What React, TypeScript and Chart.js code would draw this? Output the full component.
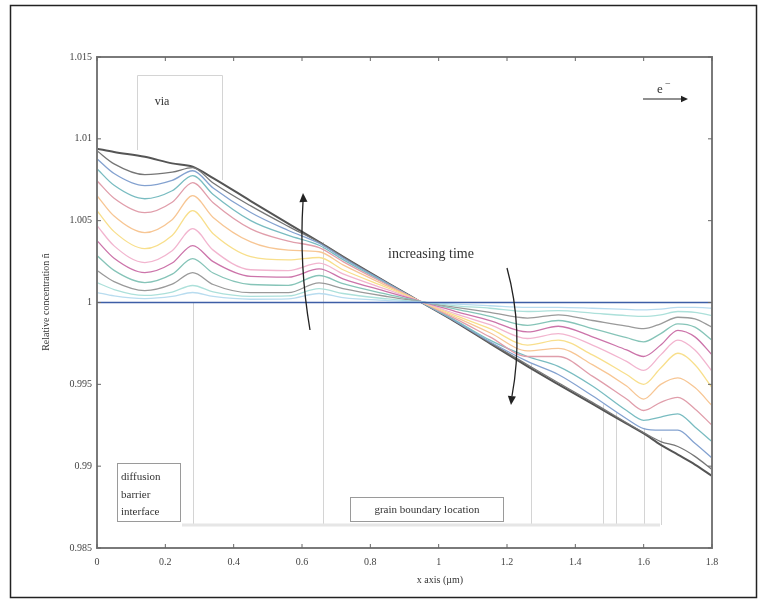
import React, { useEffect, useRef } from "react";
import { Chart, registerables } from "chart.js";

Chart.register(...registerables);

// x positions along the line (µm)
const xPositions = [0, 0.05, 0.14, 0.22, 0.28, 0.34, 0.45, 0.56, 0.65, 0.72, 0.85, 0.95, 1.05, 1.15, 1.26, 1.35, 1.45, 1.55, 1.6, 1.65, 1.7, 1.75, 1.8];

// deviations of relative concentration from 1, in units of 1e-3
const initialX = [0, 1.8];
const initialDev = [0, 0];
const profile1 = [0.61, 0.40, 0.24, 0.37, 0.61, 0.37, 0.20, 0.22, 0.55, 0.30, 0.12, 0.02, -0.10, -0.20, -0.30, -0.30, -0.35, -0.42, -0.45, -0.40, -0.30, -0.30, -0.35];
const profile2 = [1.22, 0.79, 0.43, 0.64, 1.04, 0.65, 0.38, 0.40, 0.85, 0.55, 0.22, 0.03, -0.20, -0.35, -0.55, -0.50, -0.65, -0.80, -0.85, -0.75, -0.55, -0.60, -0.80];
const profile3 = [1.95, 1.28, 0.73, 1.12, 1.83, 1.10, 0.60, 0.60, 1.20, 0.85, 0.36, 0.04, -0.30, -0.60, -0.95, -0.75, -1.10, -1.45, -1.60, -1.30, -0.90, -1.00, -1.50];
const profile4 = [2.87, 1.96, 1.22, 1.73, 2.68, 1.80, 1.10, 1.05, 1.65, 1.15, 0.50, 0.05, -0.40, -0.85, -1.40, -1.10, -1.60, -2.15, -2.40, -1.90, -1.30, -1.50, -2.30];
const profile5 = [3.78, 2.71, 1.83, 2.41, 3.48, 2.50, 1.60, 1.55, 2.05, 1.45, 0.65, 0.05, -0.55, -1.10, -1.80, -1.45, -2.10, -2.90, -3.30, -2.60, -1.70, -2.10, -3.20];
const profile6 = [4.70, 3.46, 2.44, 3.16, 4.51, 3.20, 2.00, 1.95, 2.40, 1.75, 0.78, 0.05, -0.70, -1.35, -2.20, -1.90, -2.60, -3.60, -4.15, -3.20, -2.30, -2.90, -4.20];
const profile7 = [5.61, 4.33, 3.29, 4.10, 5.61, 4.20, 2.80, 2.60, 2.75, 2.00, 0.90, 0.04, -0.80, -1.60, -2.60, -2.30, -3.20, -4.40, -5.00, -4.00, -3.10, -3.80, -5.20];
const profile8 = [6.53, 5.28, 4.27, 5.06, 6.53, 5.20, 3.70, 3.20, 3.10, 2.30, 1.00, 0.03, -0.90, -1.85, -2.95, -2.80, -3.80, -5.10, -5.90, -5.00, -4.60, -5.20, -6.30];
const profile9 = [7.44, 6.37, 5.49, 6.13, 7.32, 6.10, 4.50, 3.75, 3.35, 2.50, 1.08, 0.02, -1.00, -2.10, -3.30, -3.30, -4.50, -5.90, -6.60, -6.10, -5.80, -6.50, -7.50];
const profile10 = [8.17, 7.16, 6.34, 6.83, 7.75, 6.60, 5.00, 4.10, 3.50, 2.62, 1.13, 0.01, -1.10, -2.30, -3.30, -3.90, -5.10, -6.60, -7.20, -7.00, -6.80, -7.60, -8.50];
const profile11 = [8.78, 7.88, 7.14, 7.46, 8.05, 7.00, 5.50, 4.40, 3.62, 2.72, 1.17, 0.00, -1.15, -2.40, -3.60, -4.40, -5.70, -7.10, -7.70, -7.80, -7.80, -8.60, -9.50];
const profile12 = [9.27, 8.47, 7.81, 7.96, 8.24, 7.30, 5.90, 4.65, 3.68, 2.78, 1.19, 0.00, -1.18, -2.45, -3.80, -4.90, -6.10, -7.35, -7.95, -8.50, -8.80, -9.40, -10.20];
const finalProfile = [9.40, 9.20, 8.90, 8.50, 8.30, 7.60, 6.20, 4.82, 3.70, 2.80, 1.20, 0.00, -1.20, -2.50, -3.90, -5.00, -6.20, -7.40, -8.00, -8.70, -9.30, -9.90, -10.60];
const devUnit = 0.001;

const intermediateProfiles = [profile1, profile2, profile3, profile4, profile5, profile6, profile7, profile8, profile9, profile10, profile11, profile12];
const profileColors = ["#b8dcef", "#ace0da", "#9a9a9a", "#86c4b8", "#cc74aa", "#f2b5cf", "#f8df8c", "#f7c694", "#e09eab", "#79bcc1", "#84a2d0", "#767676"];

const xTicks = [0, 0.2, 0.4, 0.6, 0.8, 1, 1.2, 1.4, 1.6, 1.8];
const xTickLabels = ["0", "0.2", "0.4", "0.6", "0.8", "1", "1.2", "1.4", "1.6", "1.8"];
const yTicks = [0.985, 0.99, 0.995, 1, 1.005, 1.01, 1.015];
const yTickLabels = ["0.985", "0.99", "0.995", "1", "1.005", "1.01", "1.015"];

const grainBoundaries = [0.28, 0.66, 1.27, 1.48, 1.52, 1.6, 1.65];
const viaEdges = [0.117, 0.366];

const SERIF = "'Liberation Serif', 'DejaVu Serif', serif";

function arrowHead(ctx: CanvasRenderingContext2D, x: number, y: number, ang: number, size: number) {
  ctx.save();
  ctx.translate(x, y);
  ctx.rotate(ang);
  ctx.beginPath();
  ctx.moveTo(0, 0);
  ctx.lineTo(-size, -size * 0.45);
  ctx.lineTo(-size, size * 0.45);
  ctx.closePath();
  ctx.fill();
  ctx.restore();
}

const decorPlugin = {
  id: "decor",
  beforeDraw(chart: any) {
    const ctx = chart.ctx as CanvasRenderingContext2D;
    ctx.save();
    ctx.fillStyle = "#ffffff";
    ctx.fillRect(0, 0, chart.width, chart.height);
    ctx.strokeStyle = "#222";
    ctx.lineWidth = 1.5;
    ctx.strokeRect(10.5, 5.5, 746, 592);
    ctx.restore();
  },
  beforeDatasetsDraw(chart: any) {
    const ctx = chart.ctx as CanvasRenderingContext2D;
    const xs = chart.scales.x;
    const ys = chart.scales.y;
    ctx.save();
    ctx.strokeStyle = "#d4d4d4";
    ctx.lineWidth = 1;
    const vx0 = Math.round(xs.getPixelForValue(viaEdges[0])) + 0.5;
    const vx1 = Math.round(xs.getPixelForValue(viaEdges[1])) + 0.5;
    ctx.beginPath();
    ctx.moveTo(vx0, 150);
    ctx.lineTo(vx0, 75.5);
    ctx.lineTo(vx1, 75.5);
    ctx.lineTo(vx1, 180);
    ctx.stroke();
    const bottomY = 525;
    grainBoundaries.forEach((g) => {
      const px = Math.round(xs.getPixelForValue(g)) + 0.5;
      let top = ys.getPixelForValue(1);
      if (g > 0.5 && g < 1) top = ys.getPixelForValue(1.0037);
      if (g > 1) top = ys.getPixelForValue(1 - 0.0037 - (g - 1.27) * 0.012);
      ctx.beginPath();
      ctx.moveTo(px, top);
      ctx.lineTo(px, bottomY);
      ctx.stroke();
    });
    ctx.strokeStyle = "#e6e6e6";
    ctx.lineWidth = 3;
    ctx.beginPath();
    ctx.moveTo(182, 525);
    ctx.lineTo(660, 525);
    ctx.stroke();
    ctx.restore();
  },
  afterDatasetsDraw(chart: any) {
    const ctx = chart.ctx as CanvasRenderingContext2D;
    const a = chart.chartArea;
    const xs = chart.scales.x;
    const ys = chart.scales.y;
    ctx.save();
    ctx.strokeStyle = "#7a7a7a";
    ctx.lineWidth = 2;
    ctx.strokeRect(a.left, a.top, a.right - a.left, a.bottom - a.top);
    ctx.lineWidth = 1;
    ctx.strokeStyle = "#666";
    ctx.beginPath();
    yTicks.forEach((v) => {
      const py = ys.getPixelForValue(v);
      ctx.moveTo(a.left, py);
      ctx.lineTo(a.left + 4, py);
      ctx.moveTo(a.right, py);
      ctx.lineTo(a.right - 4, py);
    });
    xTicks.forEach((v) => {
      const px = xs.getPixelForValue(v);
      ctx.moveTo(px, a.bottom);
      ctx.lineTo(px, a.bottom - 4);
      ctx.moveTo(px, a.top);
      ctx.lineTo(px, a.top + 4);
    });
    ctx.stroke();

    ctx.fillStyle = "#333";
    ctx.textBaseline = "middle";
    ctx.textAlign = "center";
    ctx.font = `12px ${SERIF}`;
    ctx.fillText("via", 162, 102);
    ctx.font = `14px ${SERIF}`;
    ctx.fillText("increasing time", 431, 254);

    ctx.font = `13px ${SERIF}`;
    ctx.textAlign = "left";
    ctx.fillText("e", 657, 90);
    ctx.font = `10px ${SERIF}`;
    ctx.fillText("\u2212", 665, 84);
    ctx.strokeStyle = "#222";
    ctx.fillStyle = "#222";
    ctx.lineWidth = 1.2;
    ctx.beginPath();
    ctx.moveTo(643, 99);
    ctx.lineTo(682, 99);
    ctx.stroke();
    arrowHead(ctx, 688, 99, 0, 7);

    ctx.lineWidth = 1.3;
    ctx.beginPath();
    ctx.moveTo(310, 330);
    ctx.quadraticCurveTo(299, 265, 303, 202);
    ctx.stroke();
    arrowHead(ctx, 303, 193, -Math.PI / 2 - 0.05, 9);
    ctx.beginPath();
    ctx.moveTo(507, 268);
    ctx.quadraticCurveTo(524, 330, 512, 396);
    ctx.stroke();
    arrowHead(ctx, 511, 405, Math.PI / 2 + 0.1, 9);

    ctx.strokeStyle = "#9a9a9a";
    ctx.lineWidth = 1;
    ctx.strokeRect(117.5, 463.5, 63, 58);
    ctx.fillStyle = "#333";
    ctx.font = `11px ${SERIF}`;
    ctx.textAlign = "left";
    ctx.fillText("diffusion", 121, 477);
    ctx.fillText("barrier", 121, 495);
    ctx.fillText("interface", 121, 512);

    ctx.fillStyle = "#ffffff";
    ctx.fillRect(350, 497, 153, 24);
    ctx.strokeRect(350.5, 497.5, 153, 24);
    ctx.fillStyle = "#333";
    ctx.textAlign = "center";
    ctx.fillText("grain boundary location", 427, 510);

    ctx.font = `10px ${SERIF}`;
    ctx.fillStyle = "#333";
    ctx.fillText("x axis (\u00b5m)", 440, 580);
    ctx.save();
    ctx.translate(46, 302);
    ctx.rotate(-Math.PI / 2);
    ctx.fillText("Relative concentration \u00f1", 0, 0);
    ctx.restore();
    ctx.restore();
  },
};

export default function App() {
  const canvasRef = useRef<HTMLCanvasElement | null>(null);

  useEffect(() => {
    if (!canvasRef.current) return;
    const toPoints = (xsArr: number[], dev: number[]) =>
      dev.map((d, i) => ({ x: xsArr[i], y: 1 + d * devUnit }));

    const datasets: any[] = [
      {
        label: "t0",
        data: toPoints(initialX, initialDev),
        borderColor: "#3d5ea6",
        borderWidth: 1.6,
        pointRadius: 0,
      },
    ];
    intermediateProfiles.forEach((p, i) => {
      datasets.push({
        label: `t${i + 1}`,
        data: toPoints(xPositions, p),
        borderColor: profileColors[i % profileColors.length],
        borderWidth: 1.3,
        pointRadius: 0,
        cubicInterpolationMode: "monotone",
      });
    });
    datasets.push({
      label: "final",
      data: toPoints(xPositions, finalProfile),
      borderColor: "#555555",
      borderWidth: 2,
      pointRadius: 0,
      cubicInterpolationMode: "monotone",
    });

    const chart = new Chart(canvasRef.current, {
      type: "line",
      data: { datasets },
      options: {
        animation: false,
        responsive: true,
        maintainAspectRatio: false,
        layout: { padding: { top: 57, right: 54, left: 0, bottom: 0 } },
        plugins: { legend: { display: false }, tooltip: { enabled: false } },
        scales: {
          x: {
            type: "linear",
            min: 0,
            max: 1.8,
            grid: { display: false, drawTicks: false },
            border: { display: false },
            afterBuildTicks: (s: any) => {
              s.ticks = xTicks.map((v) => ({ value: v }));
            },
            afterFit: (s: any) => {
              s.height = 57;
            },
            ticks: {
              autoSkip: false,
              maxRotation: 0,
              padding: 8,
              color: "#444",
              font: { family: SERIF, size: 10 },
              callback: (v: any) => {
                const i = xTicks.findIndex((t) => Math.abs(t - Number(v)) < 1e-9);
                return i >= 0 ? xTickLabels[i] : "";
              },
            },
          },
          y: {
            type: "linear",
            min: 0.985,
            max: 1.015,
            grid: { display: false, drawTicks: false },
            border: { display: false },
            afterBuildTicks: (s: any) => {
              s.ticks = yTicks.map((v) => ({ value: v }));
            },
            afterFit: (s: any) => {
              s.width = 97;
            },
            ticks: {
              autoSkip: false,
              padding: 5,
              color: "#444",
              font: { family: SERIF, size: 10 },
              callback: (v: any) => {
                const i = yTicks.findIndex((t) => Math.abs(t - Number(v)) < 1e-9);
                return i >= 0 ? yTickLabels[i] : "";
              },
            },
          },
        },
      },
      plugins: [decorPlugin],
    });
    return () => chart.destroy();
  }, []);

  return (
    <div style={{ position: "fixed", left: 0, top: 0, width: 766, height: 605, background: "#fff" }}>
      <canvas ref={canvasRef} />
    </div>
  );
}
